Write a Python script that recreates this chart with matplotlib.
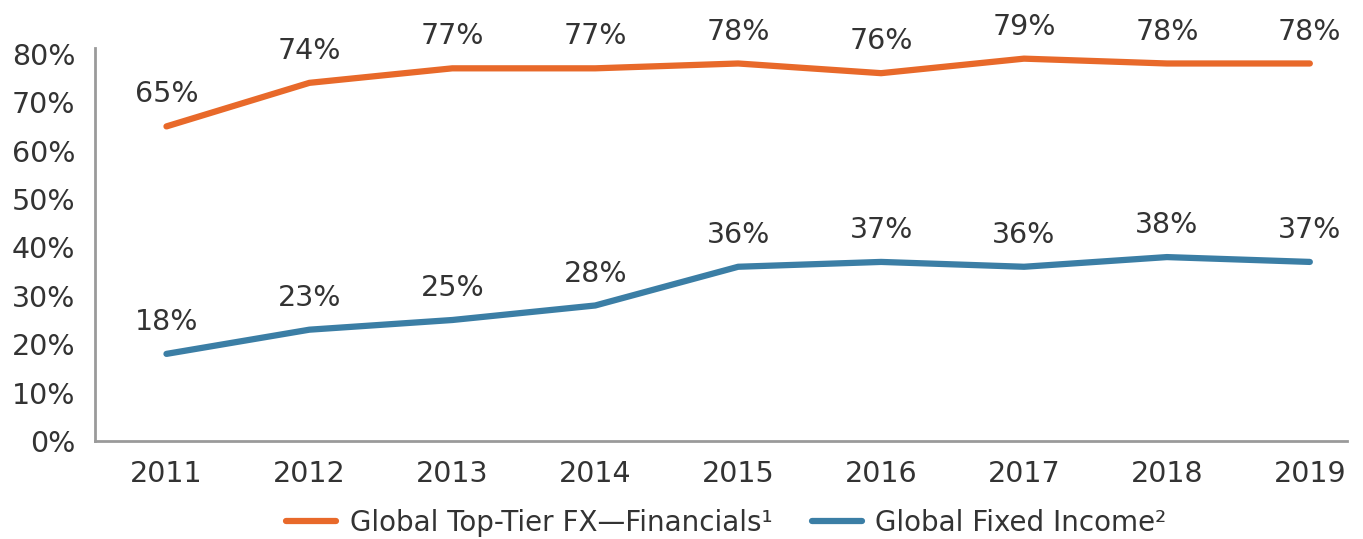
import matplotlib
matplotlib.use("Agg")
import matplotlib.pyplot as plt
from matplotlib.lines import Line2D

years = [2011, 2012, 2013, 2014, 2015, 2016, 2017, 2018, 2019]
fx_financials = [65, 74, 77, 77, 78, 76, 79, 78, 78]
fixed_income = [18, 23, 25, 28, 36, 37, 36, 38, 37]
y_ticks = [0, 10, 20, 30, 40, 50, 60, 70, 80]
series_labels = ["Global Top-Tier FX\u2014Financials\u00b9", "Global Fixed Income\u00b2"]

ORANGE = "#E8692A"
BLUE = "#3B7EA5"
TEXT = "#333333"
SPINE = "#9a9a9a"

plt.rcParams["font.family"] = ["DejaVu Sans"]

fig = plt.figure(figsize=(13.63, 5.39), dpi=100)
ax = fig.add_axes([95 / 1363, 98 / 539, (1347 - 95) / 1363, (441 - 48) / 539])

for vals, color in [(fx_financials, ORANGE), (fixed_income, BLUE)]:
    ax.plot(years, vals, color=color, lw=4.5, solid_capstyle="round",
            solid_joinstyle="round", zorder=3)
    for x, v in zip(years, vals):
        ax.annotate(f"{v}%", (x, v), xytext=(0, 23), textcoords="offset points",
                    ha="center", va="center", fontsize=20.5, color=TEXT)

ax.set_xlim(2010.5, 2019.26)
ax.set_ylim(0, 81.2)
ax.set_xticks(years)
ax.set_xticklabels([str(y) for y in years])
ax.set_yticks(y_ticks)
ax.set_yticklabels([f"{t}%" for t in y_ticks])
ax.tick_params(axis="both", length=0, labelsize=20.5, labelcolor=TEXT)
ax.tick_params(axis="x", pad=14)
ax.tick_params(axis="y", pad=14)

for side in ["top", "right"]:
    ax.spines[side].set_visible(False)
for side in ["left", "bottom"]:
    ax.spines[side].set_color(SPINE)
    ax.spines[side].set_linewidth(2)

handles = [Line2D([0], [0], color=ORANGE, lw=4.5, solid_capstyle="round"),
           Line2D([0], [0], color=BLUE, lw=4.5, solid_capstyle="round")]
fig.legend(handles, series_labels, loc="center", bbox_to_anchor=(0.533, 0.03),
           ncol=2, frameon=False, fontsize=20, handlelength=1.8,
           handletextpad=0.5, columnspacing=1.4, labelcolor=TEXT)

fig.savefig("out.png", dpi=100)
